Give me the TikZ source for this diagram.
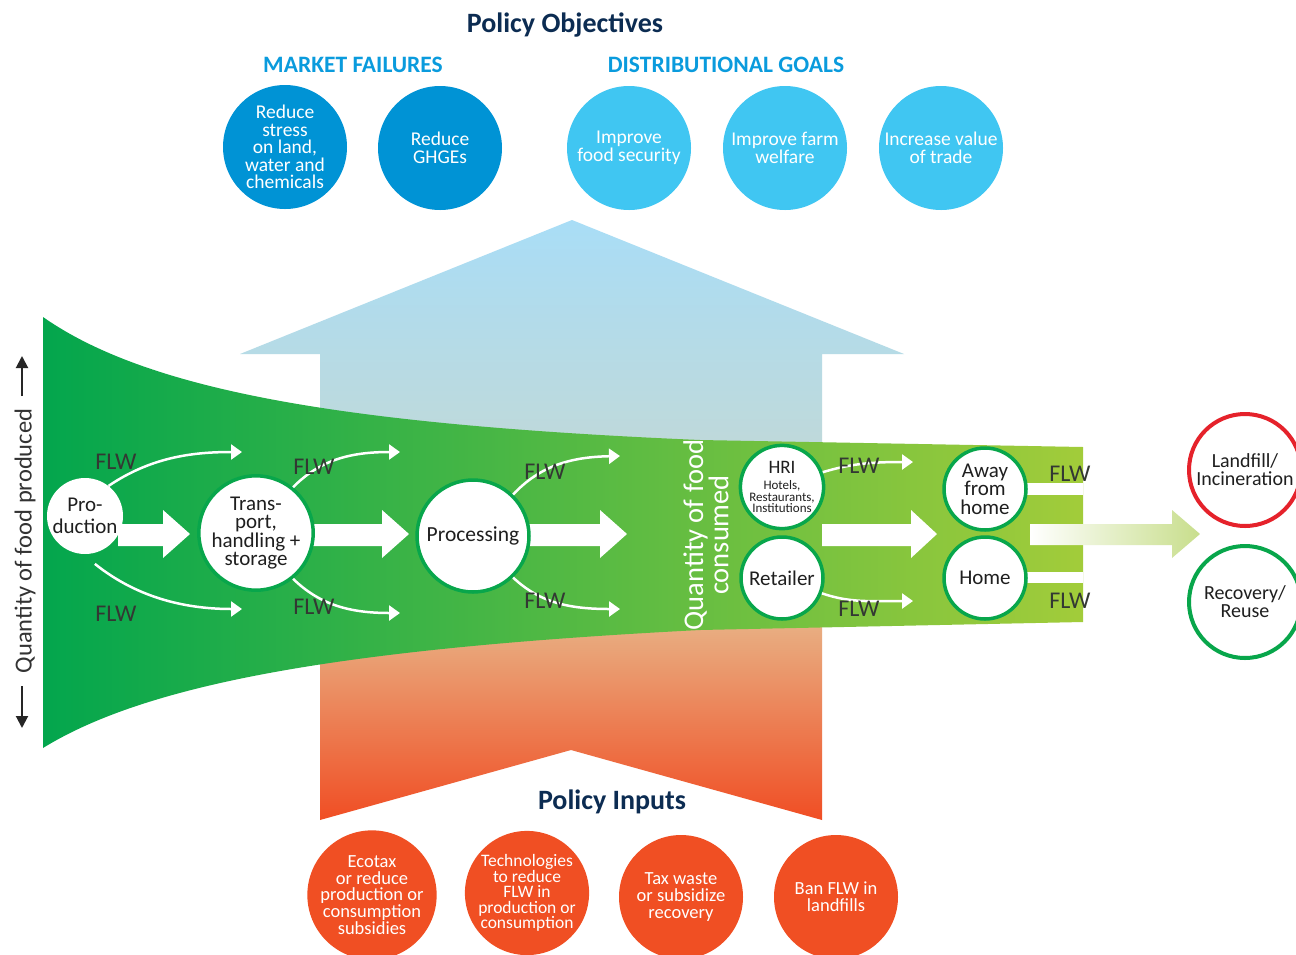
\documentclass[tikz,border=0pt]{standalone}
\usepackage{fontspec}
\setmainfont{Carlito}
\usetikzlibrary{arrows.meta}
\definecolor{navy}{HTML}{0C2C52}
\definecolor{mfblue}{HTML}{0A9BDD}
\definecolor{darkc}{HTML}{0093D5}
\definecolor{lightc}{HTML}{40C6F2}
\definecolor{orangec}{HTML}{F04F23}
\definecolor{gleft}{HTML}{03A64D}
\definecolor{gright}{HTML}{A2CC3A}
\definecolor{ringgreen}{HTML}{08A64B}
\definecolor{ringred}{HTML}{E5222B}
\definecolor{flwgray}{HTML}{333833}
\definecolor{skytop}{HTML}{A9DDF6}
\definecolor{skybot}{HTML}{CAD7CC}
\definecolor{sandtop}{HTML}{E6CFA2}
\definecolor{sandmid}{HTML}{EAA26C}
\definecolor{redbot}{HTML}{F04E24}
\definecolor{palegreen}{HTML}{C8DE8C}
\begin{document}
\begin{tikzpicture}[x=1pt,y=-1pt,
  objc/.style={circle, minimum size=124pt, inner sep=0pt, align=center, text=white,
    font=\fontsize{19.5}{17.5}\selectfont},
  inpc/.style={circle, minimum size=124pt, inner sep=0pt, align=center, text=white, fill=orangec,
    font=\fontsize{18.5}{16.7}\selectfont},
  ring/.style={circle, draw=ringgreen, line width=3.5pt, fill=white, inner sep=0pt, align=center,
    text=black!88, font=\fontsize{21}{18.5}\selectfont},
  flwarrow/.style={draw=white, line width=2.5pt, -{Triangle[length=11pt,width=15pt]}},
  flwlabel/.style={text=flwgray, font=\fontsize{24}{24}\selectfont, inner sep=0pt},
  bigwhite/.style={fill=white},
  heading/.style={font=\bfseries\fontsize{23.5}{23.5}\selectfont, text=mfblue},
  title/.style={font=\bfseries\fontsize{28}{28}\selectfont, text=navy},
  blackarrow/.style={draw=black!85, line width=2pt, -{Triangle[length=12pt,width=12pt]}}
]
\useasboundingbox (0,0) rectangle (1296,954);
\fill[white] (0,0) rectangle (1296,954);

% vertical policy arrows (background)
\shade[top color=skytop, bottom color=skybot]
  (240,354) -- (572,220) -- (904,354) -- (822,354) -- (822,560) -- (320,560) -- (320,354) -- cycle;
\shade[top color=sandtop, middle color=sandmid, bottom color=redbot]
  (320,559) -- (822,559) -- (822,820) -- (571,750) -- (320,820) -- cycle;

% funnel
\shade[left color=gleft, right color=gright]
  (43,317) .. controls (150,392) and (350,425) .. (700,440) -- (1083,447) -- (1083,622)
  -- (700,630) .. controls (350,648) and (150,682) .. (43,748) -- cycle;
\fill[white] (1020,483) rectangle (1083,495);
\fill[white] (1020,572) rectangle (1083,583);

% outgoing gradient arrow
\shade[left color=white, right color=palegreen]
  (1030,524) -- (1172,524) -- (1172,510) -- (1200,534) -- (1172,558) -- (1172,545) -- (1030,545) -- cycle;

% big white flow arrows
\fill[bigwhite] (118,524) -- (163,524) -- (163,510) -- (190,534) -- (163,558) -- (163,546) -- (118,546) -- cycle;
\fill[bigwhite] (310,524) -- (382,524) -- (382,510) -- (409,534) -- (382,558) -- (382,546) -- (310,546) -- cycle;
\fill[bigwhite] (528,524) -- (600,524) -- (600,510) -- (627,534) -- (600,558) -- (600,546) -- (528,546) -- cycle;
\fill[bigwhite] (822,524) -- (911,524) -- (911,510) -- (937,534) -- (911,558) -- (911,546) -- (822,546) -- cycle;

% chain nodes
\node[circle, fill=white, minimum size=76pt, inner sep=0pt, align=center, text=black!88,
  font=\fontsize{21}{21.5}\selectfont] (prod) at (85,516) {Pro-\\duction};
\node[ring, minimum size=112pt] (trans) at (256,533) {Trans-\\port,\\handling +\\storage};
\node[ring, minimum size=112pt, font=\fontsize{21.5}{20}\selectfont] (proc) at (473,536) {Processing};
\node[ring, minimum size=82pt, font=\fontsize{13}{11.5}\selectfont] (hri) at (782,487)
  {\fontsize{19}{11.5}\selectfont HRI\\[5pt]\fontsize{13}{11.5}\selectfont Hotels,\\Restaurants,\\Institutions};
\node[ring, minimum size=82pt] (ret) at (782,578) {Retailer};
\node[ring, minimum size=82pt] (away) at (985,489) {Away\\from\\home};
\node[ring, minimum size=82pt] (home) at (985,578) {Home};
\node[ring, draw=ringred, line width=4pt, minimum size=112pt, font=\fontsize{20}{18}\selectfont]
  (land) at (1245,470) {Landfill/\\Incineration};
\node[ring, line width=4pt, minimum size=112pt, font=\fontsize{20}{18}\selectfont]
  (recov) at (1245,602) {Recovery/\\Reuse};

% FLW curved arrows
\coordinate (p1) at (242,452); \coordinate (p2) at (242,609);
\coordinate (t1) at (400,452); \coordinate (t2) at (400,613);
\coordinate (r1) at (620,456); \coordinate (r2) at (620,609);
\coordinate (h1) at (913,462); \coordinate (h2) at (913,601);
\draw[flwarrow] (prod.52) .. controls (150,458) and (190,452) .. (p1);
\draw[flwarrow] ([yshift=-11pt]prod.-75) .. controls (140,600) and (190,609) .. (p2);
\draw[flwarrow] (trans.51) .. controls (320,460) and (350,452) .. (t1);
\draw[flwarrow] (trans.-51) .. controls (320,605) and (350,613) .. (t2);
\draw[flwarrow] (proc.46) .. controls (540,466) and (570,457) .. (r1);
\draw[flwarrow] (proc.-46) .. controls (540,603) and (570,609) .. (r2);
\draw[flwarrow] (hri.20) .. controls (850,464) and (870,462) .. (h1);
\draw[flwarrow] (ret.-21) .. controls (850,603) and (870,601) .. (h2);

% FLW labels
\node[flwlabel] (f1) at (116,462) {FLW};
\node[flwlabel] (f2) at (116,614) {FLW};
\node[flwlabel] (f3) at (314,467) {FLW};
\node[flwlabel] (f4) at (314,607) {FLW};
\node[flwlabel] (f5) at (545,472) {FLW};
\node[flwlabel] (f6) at (545,601) {FLW};
\node[flwlabel] (f7) at (859,466) {FLW};
\node[flwlabel] (f8) at (859,609) {FLW};
\node[flwlabel] (f9) at (1070,474) {FLW};
\node[flwlabel] (f10) at (1070,601) {FLW};

% quantity consumed
\node[rotate=90, text=white, align=center, font=\fontsize{28.5}{24}\selectfont] (qc) at (706,535)
  {Quantity of food\\consumed};

% quantity produced
\node[rotate=90, text=black!80, font=\fontsize{24.5}{24}\selectfont, inner sep=0pt] (qp) at (25,541)
  {Quantity of food produced};
\coordinate (ua) at (22,396); \coordinate (ub) at (22,356);
\coordinate (da) at (22,686); \coordinate (db) at (22,728);
\draw[blackarrow] (ua) -- (ub);
\draw[blackarrow] (da) -- (db);

% policy objectives
\node[title] (pobj) at (565,25) {Policy Objectives};
\node[heading] (mf) at (353,65) {MARKET FAILURES};
\node[heading] (dg) at (726,65) {DISTRIBUTIONAL GOALS};
\node[objc, fill=darkc] (o1) at (285,147) {Reduce\\stress\\on land,\\water and\\chemicals};
\node[objc, fill=darkc] (o2) at (440,148) {Reduce\\GHGEs};
\node[objc, fill=lightc] (o3) at (629,148) {Improve\\food security};
\node[objc, fill=lightc] (o4) at (785,148) {Improve farm\\welfare};
\node[objc, fill=lightc] (o5) at (941,148) {Increase value\\of trade};

% policy inputs
\node[title] (pin) at (612,802) {Policy Inputs};
\node[inpc] (i1) at (372,895) {Ecotax\\or reduce\\production or\\consumption\\subsidies};
\node[inpc, font=\fontsize{17.5}{15.5}\selectfont] (i2) at (527,893) {Technologies\\to reduce\\FLW in\\production or\\consumption};
\node[inpc] (i3) at (681,897) {Tax waste\\or subsidize\\recovery};
\node[inpc] (i4) at (836,897) {Ban FLW in\\landfills};
\end{tikzpicture}
\end{document}
